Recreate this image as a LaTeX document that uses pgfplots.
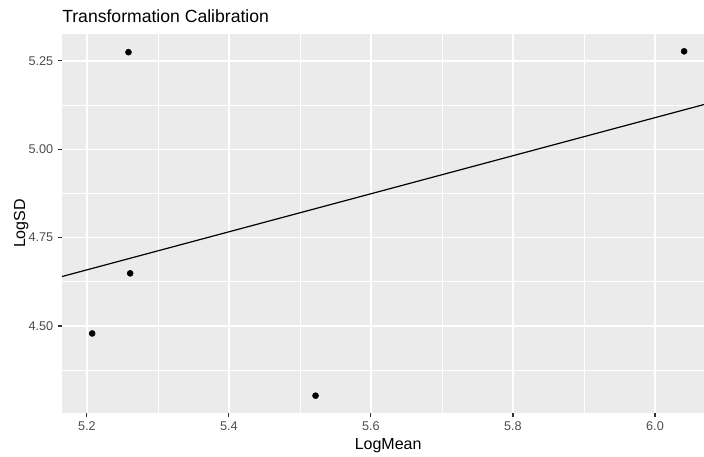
\documentclass[border=0pt]{standalone}
\usepackage{pgfplots}
\pgfplotsset{compat=1.18}
\usepackage{fontspec}
\setmainfont{Liberation Sans}
\definecolor{panel}{RGB}{235,235,235}
\definecolor{tickgray}{RGB}{51,51,51}
\definecolor{labgray}{RGB}{77,77,77}
\begin{document}
\begin{tikzpicture}
\begin{axis}[
 at={(0,0)}, anchor=south west,
 scale only axis, width=481.5pt, height=284.25pt,
 xmin=5.165, xmax=6.069, ymin=4.254, ymax=5.326,
 axis background/.style={fill=panel},
 axis line style={draw=none},
 xtick={5.2,5.4,5.6,5.8,6.0},
 ytick={4.5,4.75,5,5.25},
 minor xtick={5.3,5.5,5.7,5.9},
 minor ytick={4.375,4.625,4.875,5.125},
 xticklabels={5.2,5.4,5.6,5.8,6.0},
 yticklabels={4.50,4.75,5.00,5.25},
 grid=both,
 major grid style={white, line width=1.1pt},
 minor grid style={white, line width=0.55pt},
 tick align=outside, xtick pos=bottom, ytick pos=left,
 major tick length=3pt, minor tick length=0pt,
 tick style={tickgray, line width=0.8pt},
 tick label style={font=\fontsize{9.5}{11}\selectfont, text=labgray},
 clip=true,
]
\addplot[black, line width=0.9pt] coordinates {(5.165,4.640) (6.069,5.1265)};
\addplot[only marks, mark=*, mark size=2.25pt, black] coordinates {
(5.2075,4.479) (5.2586,5.2746) (5.261,4.649) (5.522,4.303) (6.041,5.277)};
\end{axis}
\node[anchor=base west, inner sep=0pt, font=\fontsize{13.2}{16}\selectfont] at (0pt,292.75pt) {Transformation Calibration};
\node[anchor=base, font=\fontsize{12}{14}\selectfont] at (244.6pt,-27.2pt) {LogMean};
\node[anchor=base, rotate=90, font=\fontsize{12}{14}\selectfont] at (-27.7pt,142.1pt) {LogSD};
\pgfresetboundingbox
\useasboundingbox (-46.5pt,-33pt) rectangle (481.5pt,309.75pt);
\end{tikzpicture}
\end{document}
